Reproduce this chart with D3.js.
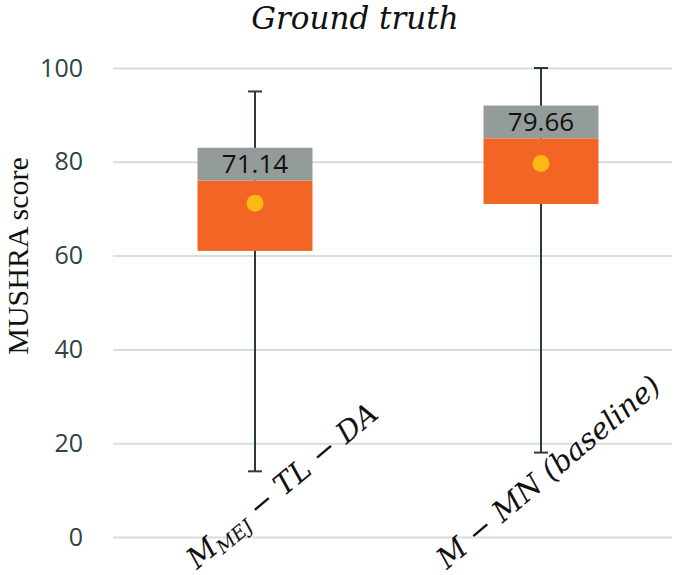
<!DOCTYPE html>
<html>
<head>
<meta charset="utf-8">
<script src="https://cdn.jsdelivr.net/npm/d3@7"></script>
<style>
  body { margin: 0; background: #fff; }
  .tick text { font-family: "Open Sans", sans-serif; }
</style>
</head>
<body>
<div id="chart"></div>
<script>
// données
const categories = ["MEJ-TL-DA", "M-MN"];
const whiskerLow = [14, 18];
const boxLow = [61, 71];
const boxMid = [76, 85];
const boxHigh = [83, 92];
const whiskerHigh = [95, 100];
const means = [71.14, 79.66];
const yTicks = [0, 20, 40, 60, 80, 100];

// dimensions du graphe
const width = 685;
const height = 575;

const svg = d3.select("#chart")
    .append("svg")
    .attr("width", width)
    .attr("height", height);

const x = d3.scaleBand()
    .domain(categories)
    .range([113, 683])
    .paddingInner(0.598)
    .paddingOuter(0.2955);

const y = d3.scaleLinear()
    .domain([0, 100])
    .range([537, 68]);

// axe des y avec la grille
const yAxis = svg.append("g")
    .attr("transform", "translate(113,0)")
    .call(d3.axisLeft(y).tickValues(yTicks).tickSize(-559).tickPadding(30));
yAxis.select(".domain").remove();
yAxis.selectAll(".tick line")
    .attr("stroke", "#d6dddb")
    .attr("stroke-width", 2);
yAxis.selectAll(".tick text")
    .attr("fill", "#2c4444")
    .attr("font-size", 25);

// titre
svg.append("text")
    .attr("x", 355)
    .attr("y", 29)
    .attr("text-anchor", "middle")
    .attr("font-family", "DejaVu Serif")
    .attr("font-style", "italic")
    .attr("font-size", 31)
    .attr("fill", "#111")
    .text("Ground truth");

// titre de l'axe y
svg.append("text")
    .attr("transform", "translate(28,256) rotate(-90)")
    .attr("text-anchor", "middle")
    .attr("font-family", "Liberation Serif")
    .attr("font-size", 30)
    .attr("fill", "#111")
    .text("MUSHRA score");

const boxes = categories.map((c, i) => ({
    key: c,
    wl: whiskerLow[i], lo: boxLow[i], mid: boxMid[i], hi: boxHigh[i],
    wh: whiskerHigh[i], mean: means[i]
}));

const g = svg.selectAll(".box")
    .data(boxes)
    .join("g")
    .attr("class", "box");

const cx = d => x(d.key) + x.bandwidth() / 2;

// moustaches
g.append("line")
    .attr("x1", cx).attr("x2", cx)
    .attr("y1", d => y(d.wl)).attr("y2", d => y(d.wh))
    .attr("stroke", "#2b3a3c").attr("stroke-width", 2);
g.selectAll(".cap")
    .data(d => [d.wl, d.wh].map(v => ({ key: d.key, v })))
    .join("line")
    .attr("class", "cap")
    .attr("x1", d => cx(d) - 7).attr("x2", d => cx(d) + 7)
    .attr("y1", d => y(d.v)).attr("y2", d => y(d.v))
    .attr("stroke", "#2b3a3c").attr("stroke-width", 2);

// partie orange (bas de la boîte)
g.append("rect")
    .attr("x", d => x(d.key))
    .attr("width", x.bandwidth())
    .attr("y", d => y(d.mid))
    .attr("height", d => y(d.lo) - y(d.mid))
    .attr("fill", "#f26524");

// partie grise (haut de la boîte)
g.append("rect")
    .attr("x", d => x(d.key))
    .attr("width", x.bandwidth())
    .attr("y", d => y(d.hi))
    .attr("height", d => y(d.mid) - y(d.hi))
    .attr("fill", "#939c9a");

// moyenne
g.append("circle")
    .attr("cx", cx)
    .attr("cy", d => y(d.mean))
    .attr("r", 8.5)
    .attr("fill", "#fdb813");

// étiquette de la moyenne
g.append("text")
    .attr("x", cx)
    .attr("y", d => (y(d.hi) + y(d.mid)) / 2 + 9)
    .attr("text-anchor", "middle")
    .attr("font-family", "Open Sans")
    .attr("font-size", 26)
    .attr("fill", "#111")
    .text(d => d.mean.toFixed(2));

// étiquettes de l'axe x (inclinées)
const labelDx = [-58, -94];
const xl = svg.selectAll(".xlabel")
    .data(boxes)
    .join("text")
    .attr("class", "xlabel")
    .attr("transform", (d, i) => `translate(${cx(d) + labelDx[i]},570) rotate(-40)`)
    .attr("font-family", "DejaVu Serif")
    .attr("font-style", "italic")
    .attr("font-size", 29)
    .attr("fill", "#111");

xl.filter((d, i) => i === 0).each(function () {
    const t = d3.select(this);
    t.append("tspan").text("M");
    t.append("tspan").attr("font-size", 19).attr("dy", 5).text("MEJ");
    t.append("tspan").attr("dy", -5).text(" \u2212 TL \u2212 DA");
});
xl.filter((d, i) => i === 1).text("M \u2212 MN (baseline)");
</script>
</body>
</html>
